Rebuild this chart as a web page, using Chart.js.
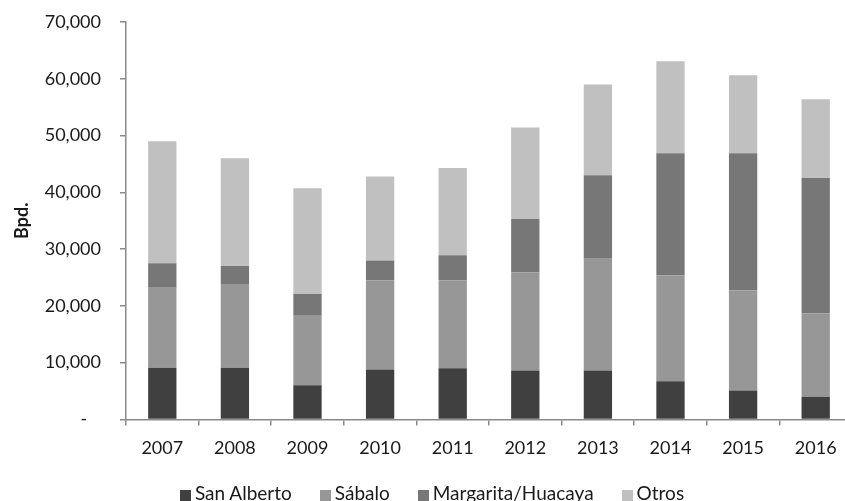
<!DOCTYPE html>
<html>
<head>
<meta charset="utf-8">
<script src="https://cdn.jsdelivr.net/npm/chart.js@4/dist/chart.umd.min.js"></script>
<style>
  html, body { margin: 0; padding: 0; background: #fff; overflow: hidden; }
  #wrap { position: relative; width: 860px; height: 501px; }
  #legend {
    position: absolute; left: 0; top: 482px; width: 864px;
    text-align: center; font-family: Lato, sans-serif; font-size: 19px;
    color: #1a1a1a; line-height: 22px; white-space: nowrap;
  }
  #legend .item { display: inline-block; margin: 0 14px; }
  #legend .box {
    display: inline-block; width: 11px; height: 11px; margin-right: 4px;
    vertical-align: -1px;
  }
</style>
</head>
<body>
<div id="wrap">
  <canvas id="produccion" width="860" height="501"></canvas>
  <div id="legend"></div>
</div>
<script>
var years = ['2007', '2008', '2009', '2010', '2011', '2012', '2013', '2014', '2015', '2016'];
var sanAlberto = [9100, 9100, 6000, 8800, 9000, 8600, 8600, 6700, 5100, 4000];
var sabalo     = [14100, 14600, 12400, 15700, 15500, 17300, 19700, 18700, 17600, 14700];
var margarita  = [4300, 3300, 3700, 3500, 4400, 9400, 14700, 21500, 24200, 23800];
var otros      = [21500, 19000, 18600, 14800, 15400, 16100, 16000, 16200, 13700, 13900];

var yMax = 70000;
var yStep = 10000;

var axisColor = '#8a8a8a';
var textColor = '#1a1a1a';

function barSet(label, values, color) {
  return {
    label: label,
    data: values,
    backgroundColor: color,
    borderWidth: 0,
    barPercentage: 0.39,
    categoryPercentage: 1
  };
}

var config = {
  type: 'bar',
  data: {
    labels: years,
    datasets: [
      barSet('San Alberto', sanAlberto, '#404040'),
      barSet('Sábalo', sabalo, '#979797'),
      barSet('Margarita/Huacaya', margarita, '#777777'),
      barSet('Otros', otros, '#c0c0c0')
    ]
  },
  options: {
    responsive: false,
    animation: false,
    layout: { padding: { top: 22, left: 11, right: 8, bottom: 30 } },
    plugins: {
      tooltip: { enabled: false },
      legend: { display: false }
    },
    scales: {
      x: {
        stacked: true,
        grid: { drawOnChartArea: false, color: axisColor, lineWidth: 1.5, tickLength: 6, offset: true },
        border: { color: axisColor, width: 1.5 },
        ticks: { color: textColor, padding: 12, font: { family: 'Lato', size: 18 } }
      },
      y: {
        stacked: true,
        min: 0,
        max: yMax,
        grid: { drawOnChartArea: false, color: axisColor, lineWidth: 1.5, tickLength: 6 },
        border: { color: axisColor, width: 1.5 },
        title: {
          display: true,
          text: 'Bpd.',
          color: textColor,
          font: { family: 'Lato', size: 18, weight: 'bold' },
          padding: { top: 0, bottom: 0 }
        },
        ticks: {
          stepSize: yStep,
          color: textColor,
          padding: 19,
          font: { family: 'Lato', size: 18 },
          callback: function(value) {
            return value === 0 ? '-   ' : value.toLocaleString('en-US');
          }
        },
        // fixed axis width; the label padding should not push the plot down
        afterFit: function(scale) {
          scale.width = 115;
          scale.paddingTop = 0;
        }
      }
    }
  }
};

var ctx = document.getElementById('produccion').getContext('2d');
var chart = new Chart(ctx, config);

// legend built from the chart's own datasets
var legendEl = document.getElementById('legend');
chart.data.datasets.forEach(function(ds) {
  var item = document.createElement('span');
  item.className = 'item';
  var box = document.createElement('span');
  box.className = 'box';
  box.style.background = ds.backgroundColor;
  item.appendChild(box);
  item.appendChild(document.createTextNode(ds.label));
  legendEl.appendChild(item);
});
</script>
</body>
</html>
